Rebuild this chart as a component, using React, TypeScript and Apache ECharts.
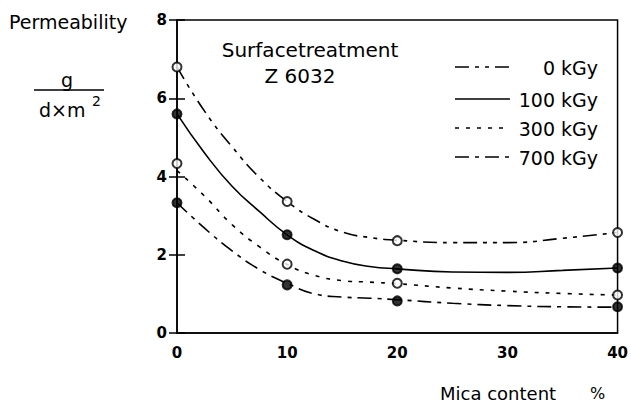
import React, { useEffect, useRef } from "react";
import * as echarts from "echarts";

// Mica content (%) where measurements were taken
const markX = [0, 10, 20, 40];
// Measured permeability values (g / d·m²)
const mark0 = [6.8, 3.36, 2.36, 2.57];
const mark100 = [5.6, 2.51, 1.64, 1.66];
const mark300 = [4.33, 1.76, 1.27, 0.97];
const mark700 = [3.33, 1.23, 0.82, 0.67];

// Fitted curves
const fitX = [0, 2.5, 5, 7.5, 10, 12.5, 15, 17.5, 20, 25, 30, 35, 40];
const fit0 = [6.8, 5.67, 4.76, 3.97, 3.36, 2.9, 2.58, 2.44, 2.37, 2.31, 2.31, 2.42, 2.57];
const fit100 = [5.6, 4.6, 3.75, 3.1, 2.51, 2.1, 1.84, 1.7, 1.64, 1.56, 1.55, 1.6, 1.66];
const fit300 = [4.15, 3.5, 2.77, 2.2, 1.75, 1.47, 1.34, 1.3, 1.26, 1.15, 1.07, 1.01, 0.97];
const fit700 = [3.33, 2.68, 2.1, 1.62, 1.27, 1.0, 0.92, 0.89, 0.85, 0.76, 0.7, 0.67, 0.66];

const seriesNames = ["0 kGy", "100 kGy", "300 kGy", "700 kGy"];
const xTicks = [0, 10, 20, 30, 40];

const FONT = "DejaVu Sans";

export default function App() {
  const ref = useRef<HTMLDivElement>(null);

  useEffect(() => {
    if (!ref.current) return;
    const chart = echarts.init(ref.current, null, { renderer: "svg" });

    const dashes: any[] = [[14, 6, 4, 6, 4, 6], "solid", [4, 7], [14, 6, 4, 6]];
    const fits = [fit0, fit100, fit300, fit700];
    const marks = [mark0, mark100, mark300, mark700];
    const filled = [false, true, false, true];

    const lineSeries = fits.map((f, i) => ({
      type: "line",
      name: seriesNames[i],
      data: fitX.map((x, j) => [x, f[j]]),
      smooth: 0.5,
      showSymbol: false,
      lineStyle: { color: "#000", width: 1.6, type: dashes[i] },
      z: 2,
    }));
    const markSeries = marks.map((m, i) => ({
      type: "scatter",
      name: seriesNames[i] + " data",
      data: markX.map((x, j) => [x, m[j]]),
      symbol: "circle",
      symbolSize: 9,
      itemStyle: {
        color: filled[i] ? "#000" : "#fff",
        borderColor: "#000",
        borderWidth: 2,
      },
      z: 5,
    }));

    const legendY = [67, 99, 128, 157];
    const legendGraphics: any[] = [];
    seriesNames.forEach((n, i) => {
      legendGraphics.push({
        type: "line",
        shape: { x1: 455, y1: legendY[i], x2: 510, y2: legendY[i] },
        style: {
          stroke: "#000",
          lineWidth: 1.6,
          lineDash: dashes[i] === "solid" ? null : dashes[i],
        },
      });
      legendGraphics.push({
        type: "text",
        x: 598,
        y: legendY[i] + 1,
        style: {
          text: n,
          fill: "#000",
          font: `19px "${FONT}"`,
          textAlign: "right",
          textVerticalAlign: "middle",
        },
      });
    });

    chart.setOption({
      animation: false,
      backgroundColor: "#fff",
      grid: {
        left: 177,
        right: 11,
        top: 20,
        bottom: 73,
        show: true,
        borderColor: "#000",
        borderWidth: 1.5,
      },
      xAxis: {
        type: "value",
        min: xTicks[0],
        max: xTicks[xTicks.length - 1],
        interval: 10,
        axisLine: { show: true, lineStyle: { color: "#000", width: 1.5 } },
        axisTick: { show: false },
        splitLine: { show: false },
        axisLabel: {
          color: "#000",
          fontSize: 15,
          fontWeight: "bold",
          fontFamily: FONT,
          margin: 12,
        },
      },
      yAxis: [
        {
          type: "value",
          min: 0,
          max: 8,
          interval: 2,
          axisLine: { show: true, lineStyle: { color: "#000", width: 1.5 } },
          axisTick: { show: true, length: 8, lineStyle: { color: "#000", width: 1.5 } },
          splitLine: { show: false },
          axisLabel: {
            color: "#000",
            fontSize: 15,
            fontWeight: "bold",
            fontFamily: FONT,
            margin: 10,
          },
        },
        {
          type: "value",
          position: "left",
          min: 0,
          max: 8,
          interval: 2,
          axisLine: { show: false },
          axisTick: {
            show: true,
            inside: true,
            length: 8,
            lineStyle: { color: "#000", width: 1.5 },
          },
          splitLine: { show: false },
          axisLabel: { show: false },
        },
      ],
      series: [...lineSeries, ...markSeries],
      graphic: [
        {
          type: "text",
          x: 9,
          y: 22,
          style: {
            text: "Permeability",
            fill: "#000",
            font: `19px "${FONT}"`,
            textVerticalAlign: "middle",
          },
        },
        {
          type: "text",
          x: 67,
          y: 80,
          style: {
            text: "g",
            fill: "#000",
            font: `19px "${FONT}"`,
            textAlign: "center",
            textVerticalAlign: "middle",
          },
        },
        {
          type: "line",
          shape: { x1: 34, y1: 90, x2: 104, y2: 90 },
          style: { stroke: "#000", lineWidth: 1.3 },
        },
        {
          type: "text",
          x: 39,
          y: 110,
          style: {
            text: "d×m",
            fill: "#000",
            font: `19px "${FONT}"`,
            textVerticalAlign: "middle",
          },
        },
        {
          type: "text",
          x: 92,
          y: 101,
          style: {
            text: "2",
            fill: "#000",
            font: `14px "${FONT}"`,
            textVerticalAlign: "middle",
          },
        },
        {
          type: "text",
          x: 310,
          y: 50,
          style: {
            text: "Surfacetreatment",
            fill: "#000",
            font: `20px "${FONT}"`,
            textAlign: "center",
            textVerticalAlign: "middle",
          },
        },
        {
          type: "text",
          x: 300,
          y: 76,
          style: {
            text: "Z 6032",
            fill: "#000",
            font: `20px "${FONT}"`,
            textAlign: "center",
            textVerticalAlign: "middle",
          },
        },
        {
          type: "text",
          x: 440,
          y: 393,
          style: {
            text: "Mica content",
            fill: "#000",
            font: `18px "${FONT}"`,
            textVerticalAlign: "middle",
          },
        },
        {
          type: "text",
          x: 590,
          y: 393,
          style: {
            text: "%",
            fill: "#000",
            font: `16px "${FONT}"`,
            textVerticalAlign: "middle",
          },
        },
        ...legendGraphics,
      ],
    });

    return () => chart.dispose();
  }, []);

  return (
    <div
      ref={ref}
      style={{ position: "fixed", left: 0, top: 0, width: 631, height: 406, background: "#fff" }}
    />
  );
}
